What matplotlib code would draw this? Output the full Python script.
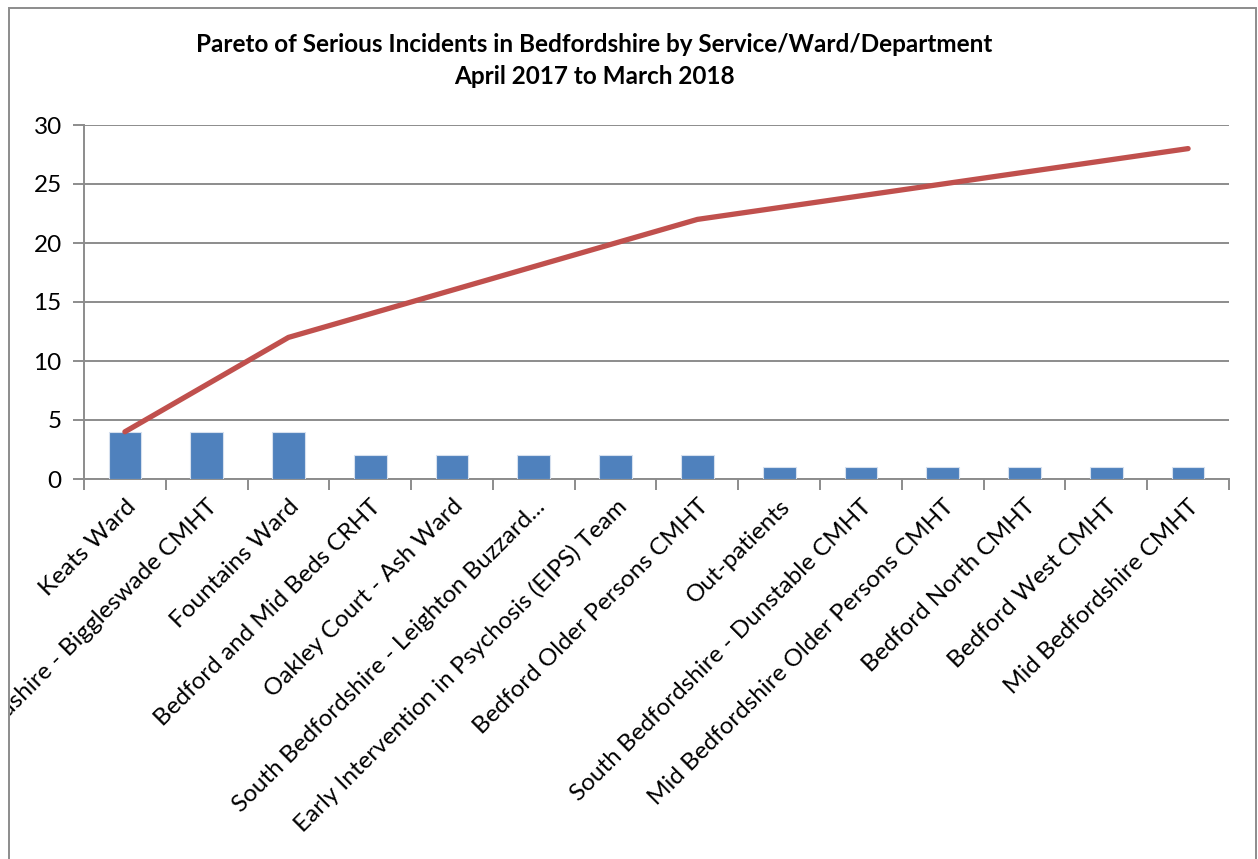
import numpy as np
import matplotlib.pyplot as plt
from matplotlib.patches import Rectangle
from matplotlib.transforms import Bbox, TransformedBbox

plt.rcParams['font.family'] = ['Lato', 'DejaVu Sans']

categories = [
    "Keats Ward",
    "Mid Bedfordshire - Biggleswade CMHT",
    "Fountains Ward",
    "Bedford and Mid Beds CRHT",
    "Oakley Court - Ash Ward",
    "South Bedfordshire - Leighton Buzzard...",
    "Early Intervention in Psychosis (EIPS) Team",
    "Bedford Older Persons CMHT",
    "Out-patients",
    "South Bedfordshire - Dunstable CMHT",
    "Mid Bedfordshire Older Persons CMHT",
    "Bedford North CMHT",
    "Bedford West CMHT",
    "Mid Bedfordshire CMHT",
]
incidents = [4, 4, 4, 2, 2, 2, 2, 2, 1, 1, 1, 1, 1, 1]
cumulative = [4, 8, 12, 14, 16, 18, 20, 22, 23, 24, 25, 26, 27, 28]

W, H = 1258, 859
fig = plt.figure(figsize=(W / 100, H / 100), dpi=100)
ax = fig.add_axes([84 / W, 1 - 479 / H, (1229 - 84) / W, (479 - 125) / H])

x = np.arange(len(categories))
ax.bar(x, incidents, width=0.4, color="#4F81BD", edgecolor="#D6E0EE", linewidth=0.8, zorder=3)
ax.plot(x, cumulative, color="#C0504D", linewidth=3.8, solid_capstyle="round", zorder=4)

ax.set_xlim(-0.5, len(categories) - 0.5)
ax.set_ylim(0, 30)
ax.set_yticks(range(0, 31, 5))
ax.yaxis.grid(True, color="#8C8C8C", linewidth=1.4, zorder=0)
ax.tick_params(axis="y", labelsize=17.5, length=8, width=1.4, color="#8C8C8C", pad=8)

ax.set_xticks(x)
ax.set_xticklabels(categories, rotation=45, ha="right", rotation_mode="anchor", fontsize=17.5)
ax.tick_params(axis="x", which="major", length=0, pad=12)
ax.set_xticks(np.arange(-0.5, len(categories), 1), minor=True)
ax.tick_params(axis="x", which="minor", length=8, width=1.4, color="#8C8C8C")

for s in ["top", "right"]:
    ax.spines[s].set_visible(False)
for s in ["left", "bottom"]:
    ax.spines[s].set_color("#8C8C8C")
    ax.spines[s].set_linewidth(1.4)

fig.text(594 / W, 1 - 45 / H, "Pareto of Serious Incidents in Bedfordshire by Service/Ward/Department",
         ha="center", va="center", fontsize=17.5, fontweight="bold")
fig.text(594 / W, 1 - 76 / H, "April 2017 to March 2018",
         ha="center", va="center", fontsize=17.5, fontweight="bold")

# chart border, labels are clipped to it like in the original
fig.patches.append(Rectangle((9 / W, -0.01), (1256 - 9) / W, 1 - 8 / H + 0.01,
                             transform=fig.transFigure, fill=False,
                             edgecolor="#8C8C8C", linewidth=1.4))
clip = TransformedBbox(Bbox([[10 / W, 0], [1, 1]]), fig.transFigure)
for lab in ax.get_xticklabels():
    lab.set_clip_box(clip)
    lab.set_clip_on(True)

fig.savefig("out.png", dpi=100)
